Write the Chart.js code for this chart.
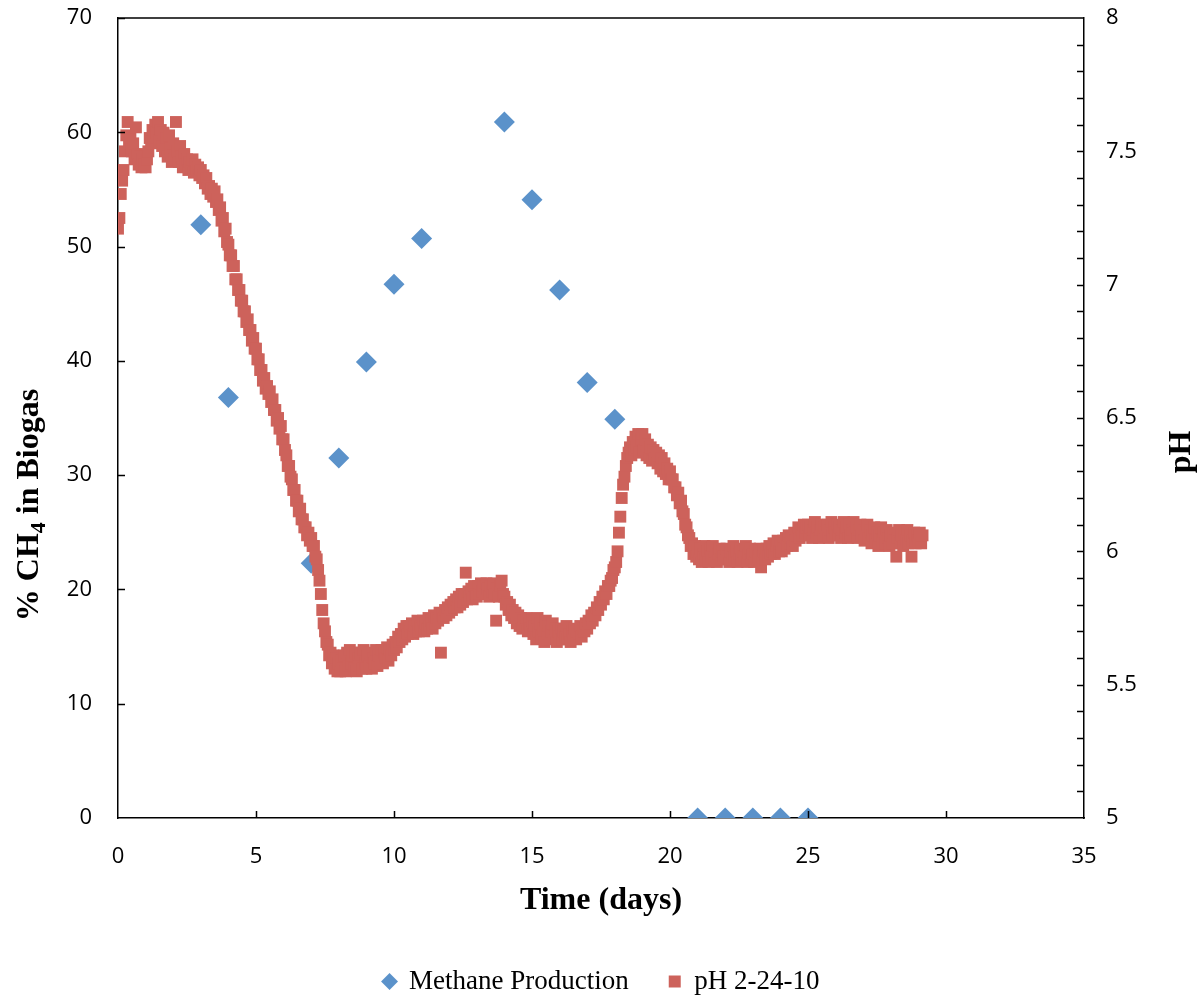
<!DOCTYPE html>
<html>
<head>
<meta charset="utf-8">
<title>Methane production and pH</title>
<script src="https://cdn.jsdelivr.net/npm/chart.js@4.4.1/dist/chart.umd.min.js"></script>
<style>
  html, body { margin: 0; padding: 0; background: #fff; }
  #wrap { width: 1203px; height: 1001px; }
</style>
</head>
<body>
<div id="wrap"><canvas id="digester"></canvas></div>
<script>
// methane content of the biogas, sampled once a day
const methaneDays = [3, 4, 7, 8, 9, 10, 11, 14, 15, 16, 17, 18, 21, 22, 23, 24, 25];
const methanePct = [51.9, 36.8, 22.3, 31.5, 39.9, 46.7, 50.7, 60.9, 54.1, 46.2, 38.1, 34.9, 0, 0, 0, 0, 0];

// pH probe log (run started 2-24-10), one reading every 0.05 day, one row per day
const phStartDay = 0;
const phStepDays = 0.05;
const phReadings = [
  7.21, 7.25, 7.34, 7.39, 7.43, 7.50, 7.56, 7.61, 7.53, 7.55, 7.50, 7.53, 7.47, 7.59, 7.49, 7.45, 7.48, 7.44, 7.47, 7.45,
  7.44, 7.47, 7.50, 7.55, 7.53, 7.58, 7.55, 7.60, 7.57, 7.61, 7.54, 7.58, 7.52, 7.57, 7.50, 7.55, 7.48, 7.56, 7.51, 7.46,
  7.53, 7.47, 7.61, 7.50, 7.46, 7.52, 7.48, 7.44, 7.49, 7.45, 7.47, 7.43, 7.46, 7.44, 7.47, 7.42, 7.45, 7.43, 7.44, 7.41,
  7.43, 7.40, 7.41, 7.38, 7.40, 7.36, 7.37, 7.34, 7.36, 7.33, 7.35, 7.31, 7.32, 7.28, 7.29, 7.24, 7.25, 7.20, 7.21, 7.16,
  7.15, 7.11, 7.11, 7.07, 7.07, 7.02, 7.02, 6.98, 6.98, 6.94, 6.94, 6.90, 6.90, 6.86, 6.87, 6.83, 6.83, 6.79, 6.80, 6.76,
  6.76, 6.72, 6.72, 6.68, 6.68, 6.64, 6.65, 6.61, 6.62, 6.59, 6.60, 6.56, 6.57, 6.53, 6.53, 6.49, 6.50, 6.46, 6.47, 6.42,
  6.42, 6.38, 6.36, 6.32, 6.32, 6.28, 6.27, 6.23, 6.23, 6.19, 6.19, 6.15, 6.16, 6.12, 6.12, 6.09, 6.09, 6.06, 6.07, 6.04,
  6.05, 6.02, 6.02, 5.98, 5.97, 5.93, 5.89, 5.84, 5.78, 5.73, 5.70, 5.66, 5.65, 5.61, 5.62, 5.58, 5.61, 5.56, 5.60, 5.55,
  5.58, 5.55, 5.59, 5.56, 5.61, 5.55, 5.62, 5.57, 5.63, 5.58, 5.61, 5.56, 5.62, 5.55, 5.60, 5.57, 5.62, 5.56, 5.63, 5.58,
  5.56, 5.61, 5.57, 5.62, 5.56, 5.60, 5.58, 5.63, 5.57, 5.61, 5.59, 5.63, 5.58, 5.62, 5.60, 5.64, 5.59, 5.63, 5.61, 5.65,
  5.63, 5.66, 5.64, 5.68, 5.66, 5.69, 5.67, 5.71, 5.68, 5.72, 5.69, 5.72, 5.70, 5.73, 5.69, 5.72, 5.70, 5.74, 5.70, 5.72,
  5.71, 5.74, 5.70, 5.73, 5.71, 5.75, 5.72, 5.74, 5.71, 5.76, 5.73, 5.75, 5.74, 5.77, 5.62, 5.76, 5.75, 5.78, 5.76, 5.79,
  5.77, 5.80, 5.78, 5.81, 5.79, 5.82, 5.79, 5.83, 5.80, 5.84, 5.81, 5.84, 5.92, 5.82, 5.85, 5.83, 5.86, 5.82, 5.87, 5.84,
  5.83, 5.87, 5.84, 5.88, 5.85, 5.87, 5.84, 5.88, 5.86, 5.83, 5.87, 5.85, 5.88, 5.84, 5.74, 5.86, 5.83, 5.87, 5.89, 5.84,
  5.83, 5.80, 5.81, 5.78, 5.80, 5.76, 5.78, 5.75, 5.77, 5.73, 5.76, 5.72, 5.75, 5.71, 5.74, 5.72, 5.75, 5.70, 5.73, 5.71,
  5.74, 5.69, 5.72, 5.67, 5.75, 5.70, 5.73, 5.68, 5.71, 5.66, 5.74, 5.69, 5.72, 5.67, 5.70, 5.73, 5.68, 5.71, 5.66, 5.70,
  5.68, 5.71, 5.67, 5.70, 5.68, 5.72, 5.67, 5.69, 5.66, 5.70, 5.68, 5.71, 5.67, 5.70, 5.69, 5.72, 5.68, 5.71, 5.70, 5.73,
  5.71, 5.74, 5.73, 5.76, 5.74, 5.77, 5.76, 5.79, 5.78, 5.81, 5.80, 5.83, 5.82, 5.85, 5.84, 5.87, 5.87, 5.89, 5.90, 5.93,
  5.94, 5.96, 6.00, 6.07, 6.13, 6.20, 6.25, 6.28, 6.32, 6.35, 6.37, 6.39, 6.36, 6.41, 6.38, 6.43, 6.39, 6.44, 6.37, 6.42,
  6.44, 6.38, 6.42, 6.36, 6.40, 6.35, 6.39, 6.34, 6.38, 6.35, 6.37, 6.33, 6.36, 6.31, 6.35, 6.30, 6.33, 6.29, 6.31, 6.27,
  6.30, 6.27, 6.27, 6.24, 6.24, 6.21, 6.22, 6.18, 6.19, 6.15, 6.14, 6.10, 6.09, 6.06, 6.05, 6.02, 6.03, 5.99, 6.02, 5.98,
  6.00, 5.97, 6.01, 5.96, 5.99, 6.02, 5.97, 6.00, 5.96, 6.01, 5.98, 6.02, 5.97, 6.00, 5.96, 5.99, 6.01, 5.97, 6.00, 5.98,
  5.97, 6.01, 5.98, 5.96, 6.00, 5.97, 6.02, 5.98, 6.00, 5.96, 5.99, 6.01, 5.97, 6.00, 5.98, 6.02, 5.96, 5.99, 6.01, 5.97,
  5.99, 5.96, 6.00, 5.97, 5.98, 6.01, 5.94, 5.98, 6.00, 5.97, 6.01, 5.98, 6.02, 5.99, 6.00, 6.03, 5.99, 6.02, 6.04, 6.00,
  6.03, 6.00, 6.04, 6.01, 6.05, 6.02, 6.06, 6.03, 6.05, 6.02, 6.07, 6.04, 6.06, 6.09, 6.05, 6.08, 6.06, 6.10, 6.07, 6.09,
  6.10, 6.06, 6.09, 6.05, 6.08, 6.11, 6.07, 6.09, 6.05, 6.08, 6.10, 6.06, 6.09, 6.07, 6.10, 6.05, 6.08, 6.11, 6.06, 6.09,
  6.07, 6.10, 6.06, 6.09, 6.05, 6.08, 6.11, 6.07, 6.09, 6.05, 6.10, 6.06, 6.08, 6.11, 6.07, 6.09, 6.05, 6.08, 6.10, 6.06,
  6.08, 6.04, 6.07, 6.10, 6.05, 6.08, 6.03, 6.06, 6.09, 6.04, 6.07, 6.02, 6.06, 6.09, 6.04, 6.07, 6.03, 6.08, 6.05, 6.02,
  6.06, 6.03, 6.07, 6.04, 5.98, 6.05, 6.08, 6.03, 6.06, 6.02, 6.07, 6.04, 6.08, 6.03, 6.06, 5.98, 6.04, 6.07, 6.03, 6.06,
  6.04, 6.07, 6.03, 6.06
];

const blue = '#5B92CA';
const red = '#CD625B';
const tickFont = { family: "'Open Sans', sans-serif", size: 22 };
const serif = "'Liberation Serif', 'DejaVu Serif', serif";

const methanePoints = methaneDays.map((d, i) => ({ x: d, y: methanePct[i] }));
const phPoints = phReadings.map((v, i) => ({ x: +(phStartDay + i * phStepDays).toFixed(2), y: v }));

// fixed axis widths; the label overhang is handled by the layout padding instead
const fixWidth = w => s => {
  s.width = w;
  s.paddingTop = 0;
  s.paddingBottom = 0;
};

// inward tick marks, the top edge of the frame and the two y titles
const frameAndTitles = {
  id: 'frameAndTitles',
  afterDraw(chart) {
    const { ctx, chartArea: a, scales } = chart;
    const tick = 7;
    ctx.save();
    ctx.strokeStyle = '#000';
    ctx.lineWidth = 1.5;
    ctx.beginPath();
    ctx.moveTo(a.left, a.top);
    ctx.lineTo(a.right, a.top);
    for (let v = 10; v <= 70; v += 10) {
      const y = Math.round(scales.y.getPixelForValue(v)) + 0.5;
      ctx.moveTo(a.left, y);
      ctx.lineTo(a.left + tick, y);
    }
    for (let d = 5; d < 35; d += 5) {
      const x = Math.round(scales.x.getPixelForValue(d)) + 0.5;
      ctx.moveTo(x, a.bottom);
      ctx.lineTo(x, a.bottom - tick);
    }
    for (let k = 51; k < 80; k++) {
      const y = Math.round(scales.yPh.getPixelForValue(k / 10)) + 0.5;
      ctx.moveTo(a.right, y);
      ctx.lineTo(a.right - tick, y);
    }
    ctx.stroke();

    ctx.fillStyle = '#000';
    ctx.textBaseline = 'alphabetic';
    // left title, with a subscript 4
    ctx.save();
    ctx.translate(38, 505);
    ctx.rotate(-Math.PI / 2);
    const big = 'bold 32px ' + serif;
    const small = 'bold 22px ' + serif;
    const parts = [['% CH', big, 0], ['4', small, 7], [' in Biogas', big, 0]];
    let total = 0;
    parts.forEach(p => { ctx.font = p[1]; total += ctx.measureText(p[0]).width; });
    let cx = -total / 2;
    parts.forEach(p => {
      ctx.font = p[1];
      ctx.fillText(p[0], cx, p[2]);
      cx += ctx.measureText(p[0]).width;
    });
    ctx.restore();
    // right title
    ctx.save();
    ctx.translate(1190, 452);
    ctx.rotate(-Math.PI / 2);
    ctx.font = 'bold 32px ' + serif;
    ctx.textAlign = 'center';
    ctx.fillText('pH', 0, 0);
    ctx.restore();
    ctx.restore();
  }
};

new Chart(document.getElementById('digester'), {
  type: 'scatter',
  data: {
    datasets: [
      {
        label: 'Methane Production',
        data: methanePoints,
        yAxisID: 'y',
        pointStyle: 'rectRot',
        pointRadius: 10.5,
        pointBackgroundColor: blue,
        pointBorderWidth: 0,
        backgroundColor: blue,
        borderColor: blue,
        order: 2
      },
      {
        label: 'pH 2-24-10',
        data: phPoints,
        yAxisID: 'yPh',
        pointStyle: 'rect',
        pointRadius: 8.4,
        pointBackgroundColor: red,
        pointBorderWidth: 0,
        backgroundColor: red,
        borderColor: red,
        order: 1
      }
    ]
  },
  options: {
    responsive: true,
    maintainAspectRatio: false,
    animation: false,
    events: [],
    layout: { padding: { top: 18, left: 0, right: 0, bottom: -4 } },
    scales: {
      x: {
        type: 'linear',
        position: 'bottom',
        min: 0,
        max: 35,
        afterFit: s => { s.height = 110; },
        ticks: { stepSize: 5, color: '#000', font: tickFont, padding: 26, maxRotation: 0 },
        grid: { display: false, drawTicks: false },
        border: { display: true, color: '#000', width: 1.5 },
        title: {
          display: true,
          text: 'Time (days)',
          color: '#000',
          font: { family: serif, size: 32, weight: 'bold' },
          padding: { top: 0, bottom: 8 }
        }
      },
      y: {
        type: 'linear',
        position: 'left',
        min: 0,
        max: 70,
        afterFit: fixWidth(118),
        ticks: { stepSize: 10, color: '#000', font: tickFont, padding: 26 },
        grid: { display: false, drawTicks: false },
        border: { display: true, color: '#000', width: 1.5 }
      },
      yPh: {
        type: 'linear',
        position: 'right',
        min: 5,
        max: 8,
        afterFit: fixWidth(119),
        ticks: { stepSize: 0.5, color: '#000', font: tickFont, padding: 22, callback: v => String(v) },
        grid: { display: false, drawTicks: false },
        border: { display: true, color: '#000', width: 1.5 }
      }
    },
    plugins: {
      legend: {
        position: 'bottom',
        labels: {
          usePointStyle: true,
          boxWidth: 12,
          boxHeight: 12,
          padding: 40,
          color: '#000',
          font: { family: serif, size: 27 },
          sort: (a, b) => a.datasetIndex - b.datasetIndex
        }
      },
      tooltip: { enabled: false }
    }
  },
  plugins: [frameAndTitles]
});
</script>
</body>
</html>
